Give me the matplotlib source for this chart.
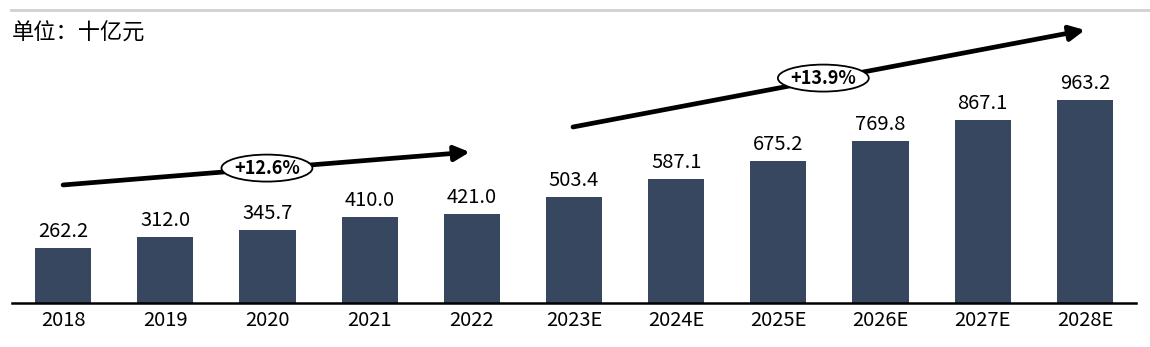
import matplotlib
matplotlib.use("Agg")
import matplotlib.pyplot as plt
from matplotlib.lines import Line2D
from matplotlib.patches import Ellipse

plt.rcParams['font.family'] = ['Noto Sans CJK SC', 'DejaVu Sans']

years = ["2018", "2019", "2020", "2021", "2022", "2023E", "2024E",
         "2025E", "2026E", "2027E", "2028E"]
values = [262.2, 312.0, 345.7, 410.0, 421.0, 503.4, 587.1,
          675.2, 769.8, 867.1, 963.2]
cagr_labels = ["+12.6%", "+13.9%"]
unit_label = "单位：十亿元"

bar_color = "#37475f"

fig = plt.figure(figsize=(11.5, 3.47), dpi=100)
W, H = 1150, 347
ax = fig.add_axes([12 / W, (H - 303) / H, (1136 - 12) / W, (303 - 10) / H])

x = list(range(len(years)))
ax.bar(x, values, width=0.55, color=bar_color, zorder=2)
for xi, v in zip(x, values):
    ax.text(xi, v + 28, f"{v:.1f}", ha="center", va="bottom", fontsize=14.5)

ax.set_xlim(-0.5, len(years) - 0.5)
ax.set_ylim(0, 1390)
ax.set_xticks(x)
ax.set_xticklabels(years, fontsize=14.5)
ax.tick_params(axis="x", length=0, pad=5)
ax.set_yticks([])
for s in ["top", "right", "left"]:
    ax.spines[s].set_visible(False)
ax.spines["bottom"].set_linewidth(1.8)
ax.spines["bottom"].set_color("black")

# growth arrows
arrow_props = dict(arrowstyle="-|>,head_length=0.9,head_width=0.45",
                   color="black", lw=3.4, shrinkA=0, shrinkB=0)
ax.annotate("", xy=(3.98, 716), xytext=(0.0, 560), arrowprops=arrow_props, zorder=3)
ax.annotate("", xy=(10.0, 1295), xytext=(4.99, 835), arrowprops=arrow_props, zorder=3)

# growth-rate badges
for (cx, cy), label in zip([(1.995, 640), (7.44, 1067)], cagr_labels):
    ax.add_patch(Ellipse((cx, cy), 0.89, 128, fc="white", ec="black",
                         lw=1.3, zorder=4))
    ax.text(cx, cy, label, ha="center", va="center", fontsize=13,
            fontweight="bold", zorder=5)

# header rule and unit note
fig.add_artist(Line2D([11 / W, 1.0], [1 - 10 / H, 1 - 10 / H],
                      color="#d0d0d0", lw=2))
fig.text(12 / W, 1 - 33 / H, unit_label, ha="left", va="center",
         fontsize=16, fontweight="medium")

fig.savefig("out.png", dpi=100, facecolor="white")
